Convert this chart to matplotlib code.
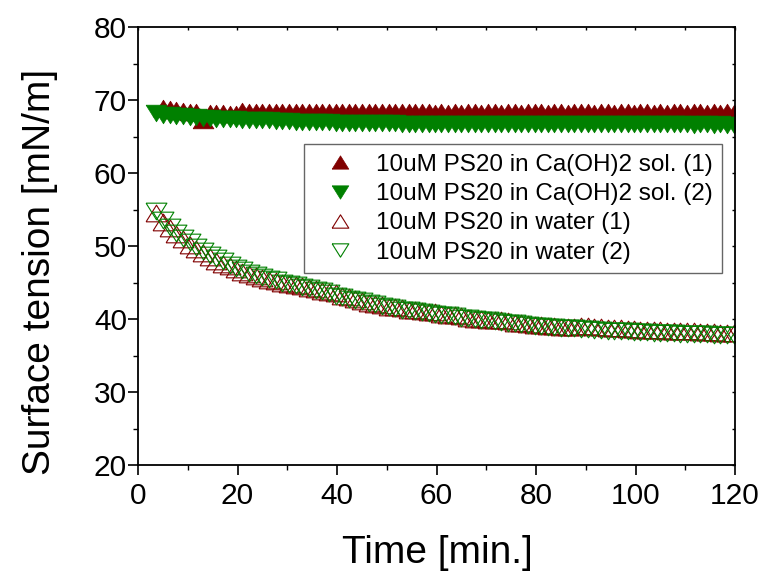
import numpy as np
import matplotlib
matplotlib.use("Agg")
import matplotlib.pyplot as plt
from matplotlib.ticker import MultipleLocator

plt.rcParams['font.family'] = ['Liberation Sans', 'DejaVu Sans']

nan = np.nan
time_min = [3.7, 5.0, 6.4, 7.7, 9.0, 10.4, 11.7, 13.0, 14.4, 15.7,
            17.0, 18.4, 19.7, 21.0, 22.4, 23.7, 25.0, 26.4, 27.7, 29.0,
            30.4, 31.7, 33.0, 34.4, 35.7, 37.0, 38.4, 39.7, 41.0, 42.4,
            43.7, 45.0, 46.4, 47.7, 49.0, 50.4, 51.7, 53.0, 54.4, 55.7,
            57.0, 58.4, 59.7, 61.0, 62.4, 63.7, 65.0, 66.4, 67.7, 69.0,
            70.4, 71.7, 73.0, 74.4, 75.7, 77.0, 78.4, 79.7, 81.0, 82.4,
            83.7, 85.0, 86.4, 87.7, 89.0, 90.4, 91.7, 93.0, 94.4, 95.7,
            97.0, 98.4, 99.7, 101.0, 102.4, 103.7, 105.0, 106.4, 107.7, 109.0,
            110.4, 111.7, 113.0, 114.4, 115.7, 117.0, 118.4, 119.7]

caoh_1 = [nan, 68.9, 68.8, 68.6, 68.5, 68.4, 68.3, 67.2, 68.2, 68.2,
          68.2, 68.1, 68.1, 68.5, 68.4, 68.4, 68.3, 68.4, 68.3, 68.4,
          68.3, 68.4, 68.3, 68.3, 68.4, 68.3, 68.4, 68.3, 68.3, 68.4,
          68.3, 68.3, 68.4, 68.3, 68.3, 68.4, 68.3, 68.3, 68.3, 68.4,
          68.3, 68.3, 68.2, 68.3, 68.2, 68.3, 68.2, 68.3, 68.3, 68.2,
          68.3, 68.3, 68.2, 68.3, 68.3, 68.2, 68.3, 68.3, 68.3, 68.2,
          68.3, 68.3, 68.2, 68.3, 68.3, 68.3, 68.2, 68.3, 68.3, 68.2,
          68.3, 68.3, 68.2, 68.3, 68.3, 68.2, 68.3, 68.2, 68.3, 68.3,
          68.2, 68.3, 68.3, 68.2, 68.3, 68.2, 68.3, 68.2]

caoh_2 = [68.2, 68.0, 67.9, 67.85, 67.8, 67.7, 67.7, 67.6, 67.5, 67.45,
          67.4, 67.4, 67.35, 67.3, 67.3, 67.25, 67.2, 67.2, 67.15, 67.1,
          67.1, 67.05, 67.05, 67.0, 67.0, 66.95, 66.95, 66.9, 66.9, 66.9,
          66.85, 66.85, 66.85, 66.8, 66.8, 66.8, 66.8, 66.75, 66.75, 66.75,
          66.75, 66.7, 66.7, 66.7, 66.7, 66.65, 66.7, 66.65, 66.7, 66.7,
          66.7, 66.7, 66.75, 66.7, 66.75, 66.7, 66.75, 66.75, 66.7, 66.75,
          66.75, 66.7, 66.75, 66.7, 66.7, 66.75, 66.7, 66.7, 66.7, 66.7,
          66.7, 66.65, 66.7, 66.7, 66.65, 66.7, 66.65, 66.65, 66.7, 66.65,
          66.65, 66.6, 66.65, 66.65, 66.6, 66.65, 66.6, 66.6]

water_1 = [54.5, 53.3, 52.4, 51.6, 50.9, 50.2, 49.6, 49.0, 48.5, 48.0,
           47.6, 47.2, 46.8, 46.5, 46.1, 45.9, 45.6, 45.4, 45.2, 45.0,
           44.8, 44.6, 44.5, 44.3, 44.1, 43.9, 43.7, 43.5, 43.2, 43.0,
           42.7, 42.4, 42.2, 42.0, 41.9, 41.7, 41.6, 41.5, 41.3, 41.2,
           41.1, 41.0, 40.9, 40.75, 40.6, 40.5, 40.4, 40.2, 40.05, 40.0,
           39.9, 39.85, 39.8, 39.7, 39.5, 39.4, 39.3, 39.2, 39.15, 39.1,
           39.0, 38.95, 38.9, 38.9, 39.0, 39.0, 38.9, 38.85, 38.8, 38.75,
           38.7, 38.65, 38.6, 38.55, 38.5, 38.5, 38.45, 38.4, 38.4, 38.35,
           38.3, 38.3, 38.25, 38.2, 38.2, 38.15, 38.1, 38.1]

water_2 = [54.8, 53.6, 52.6, 51.8, 51.1, 50.5, 49.9, 49.3, 48.8, 48.3,
           47.9, 47.4, 47.0, 46.7, 46.3, 46.0, 45.8, 45.5, 45.3, 45.0,
           44.8, 44.6, 44.4, 44.2, 44.0, 43.8, 43.5, 43.2, 43.0, 42.8,
           42.6, 42.4, 42.2, 42.0, 41.8, 41.6, 41.5, 41.3, 41.2, 41.1,
           41.0, 40.85, 40.7, 40.6, 40.5, 40.35, 40.2, 40.1, 40.0, 39.9,
           39.8, 39.7, 39.6, 39.5, 39.4, 39.3, 39.2, 39.1, 39.0, 38.9,
           38.85, 38.8, 38.7, 38.7, 38.6, 38.6, 38.5, 38.45, 38.4, 38.4,
           38.35, 38.3, 38.25, 38.2, 38.2, 38.15, 38.1, 38.1, 38.05, 38.0,
           38.0, 37.95, 37.9, 37.9, 37.85, 37.85, 37.8, 37.8]

labels = ["10uM PS20 in Ca(OH)2 sol. (1)",
          "10uM PS20 in Ca(OH)2 sol. (2)",
          "10uM PS20 in water (1)",
          "10uM PS20 in water (2)"]

WINE = "#800000"
GREEN = "#008000"

up = [(-1, -0.8), (1, -0.8), (0, 0.8), (-1, -0.8)]
down = [(-1, 0.8), (1, 0.8), (0, -0.8), (-1, 0.8)]

W, H = 765, 571
fig = plt.figure(figsize=(W / 100, H / 100), dpi=100)
ax = fig.add_axes([138 / W, 1 - 465 / H, (735 - 138) / W, (465 - 27) / H])

ms = 15
styles = [
    dict(marker=up, color=WINE, mfc=WINE, mec=WINE, mew=0.5),
    dict(marker=down, color=GREEN, mfc=GREEN, mec=GREEN, mew=0.5),
    dict(marker=up, color=WINE, mfc='none', mec=WINE, mew=0.8),
    dict(marker=down, color=GREEN, mfc='none', mec=GREEN, mew=0.8),
]
series = [caoh_1, caoh_2, water_1, water_2]
for vals, st, lab in zip(series, styles, labels):
    ax.plot(time_min, vals, linestyle='none', ms=ms, label=lab, **st)

ax.set_xlim(0, 120)
ax.set_ylim(20, 80)
ax.xaxis.set_major_locator(MultipleLocator(20))
ax.xaxis.set_minor_locator(MultipleLocator(10))
ax.yaxis.set_major_locator(MultipleLocator(10))
ax.yaxis.set_minor_locator(MultipleLocator(5))

for sp in ax.spines.values():
    sp.set_linewidth(1.3)

ax.tick_params(axis='both', which='major', direction='out', length=7, width=1.2,
               labelsize=21.5, top=False, right=False)
ax.tick_params(axis='both', which='minor', direction='out', length=3.5, width=1.0,
               top=False, right=False)
ax.tick_params(axis='x', which='major', pad=5)
ax.tick_params(axis='y', which='major', pad=1)

ax_top = ax.secondary_xaxis('top')
ax_top.xaxis.set_major_locator(MultipleLocator(20))
ax_top.xaxis.set_minor_locator(MultipleLocator(10))
ax_top.tick_params(which='both', direction='in', length=2, width=1.0, labeltop=False)
ax_top.spines['top'].set_visible(False)
ax_right = ax.secondary_yaxis('right')
ax_right.yaxis.set_major_locator(MultipleLocator(10))
ax_right.yaxis.set_minor_locator(MultipleLocator(5))
ax_right.tick_params(which='both', direction='in', length=2, width=1.0, labelright=False)
ax_right.spines['right'].set_visible(False)

fig.text(437 / W, 1 - 563 / H, "Time [min.]", fontsize=28, ha='center', va='baseline')
fig.text(40 / W, 1 - 272 / H, "Surface tension [mN/m]", fontsize=28,
         ha='center', va='center', rotation=90)

leg = ax.legend(loc='upper left', bbox_to_anchor=(304 / W, 1 - 144 / H),
                bbox_transform=fig.transFigure, borderaxespad=0,
                fontsize=17.5, frameon=True, fancybox=False, shadow=False,
                labelspacing=0.3, borderpad=0.4, handlelength=2.2,
                handletextpad=0.35, markerscale=0.8)
leg.get_frame().set_edgecolor('#404040')
leg.get_frame().set_linewidth(1.0)

fig.savefig("out.png", dpi=100)
